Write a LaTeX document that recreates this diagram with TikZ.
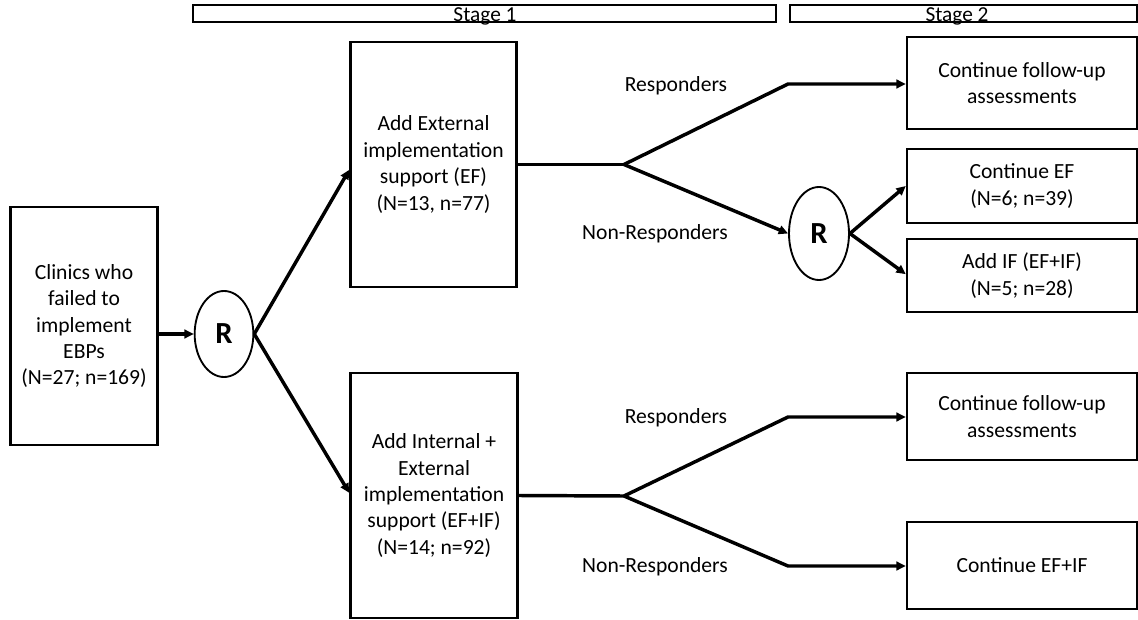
\documentclass[tikz,border=0pt]{standalone}
\usepackage{fontspec}
\setmainfont{Carlito}
\usetikzlibrary{shapes.geometric,arrows.meta}
\begin{document}
\begin{tikzpicture}[x=0.75pt,y=-0.75pt,
  txt/.style={font=\fontsize{16.2}{19.8}\selectfont},
  boxnode/.style={draw=black,line width=1.9pt,rectangle,inner sep=0pt,align=center,txt},
  rnode/.style={draw=black,line width=1.4pt,ellipse,inner sep=0pt,font=\fontsize{23}{24}\selectfont\bfseries},
  stagebar/.style={draw=black,line width=0.9pt,rectangle,inner sep=0pt,minimum height=12.75pt},
  stagetxt/.style={inner sep=0pt,anchor=base,font=\fontsize{16}{16}\selectfont},
  conn/.style={line width=2.6pt,line join=miter},
  arr/.style={conn,-{Triangle[length=7pt,width=6.5pt]}},
  lbl/.style={txt,inner sep=0pt}
]
\useasboundingbox (0,0) rectangle (1138,620);

% stage bars
\node[stagebar,minimum width=437.25pt] (st1) at (484.5,13.5) {};
\node[stagebar,minimum width=260.25pt] (st2) at (963.5,13.5) {};
\node[stagetxt] (st1t) at (485,21.5) {Stage 1};
\node[stagetxt] (st2t) at (957,21.5) {Stage 2};

% nodes
\node[boxnode,minimum width=110.25pt,minimum height=178.5pt] (clin) at (84,326)
  {Clinics who\\failed to\\implement\\EBPs\\(N=27; n=169)};
\node[rnode,minimum width=44pt,minimum height=64.5pt] (r1) at (224,334) {R};
\node[boxnode,minimum width=124.5pt,minimum height=183.75pt] (ef) at (433.5,164.5)
  {Add External\\implementation\\support (EF)\\(N=13, n=77)};
\node[boxnode,minimum width=125.25pt,minimum height=183.75pt] (efif) at (434,495.5)
  {Add Internal +\\External\\implementation\\support (EF+IF)\\(N=14; n=92)};
\node[boxnode,minimum width=172.5pt,minimum height=69pt] (fu1) at (1022,83)
  {Continue follow-up\\assessments};
\node[rnode,minimum width=45pt,minimum height=69.75pt] (r2) at (819,233.5) {R};
\node[boxnode,minimum width=172.5pt,minimum height=55.5pt] (cef) at (1022,186)
  {Continue EF\\(N=6; n=39)};
\node[boxnode,minimum width=172.5pt,minimum height=54.75pt] (aif) at (1022,275.5)
  {Add IF (EF+IF)\\(N=5; n=28)};
\node[boxnode,minimum width=172.5pt,minimum height=65.25pt] (fu2) at (1022,416.5)
  {Continue follow-up\\assessments};
\node[boxnode,minimum width=172.5pt,minimum height=65.25pt] (cefif) at (1022,565.5)
  {Continue EF+IF};

% labels
\node[lbl] (resp1) at (676,86) {Responders};
\node[lbl] (nonr1) at (655,234) {Non-Responders};
\node[lbl] (resp2) at (676,418) {Responders};
\node[lbl] (nonr2) at (655,567) {Non-Responders};

% branch coordinates
\coordinate (b1) at (624,164.5);
\coordinate (t1) at (788,84);
\coordinate (b2) at (624,496);
\coordinate (t2) at (788,417);
\coordinate (t3) at (788,566);

% connectors
\draw[arr] (clin.east |- r1.west) -- (r1.west);
\draw[arr] (r1.east) -- ([yshift=-4pt]ef.west);
\draw[arr] (r1.east) -- ([yshift=2pt]efif.west);
\draw[conn] (ef.east) -- (b1);
\draw[arr] (b1) -- (t1) -- (t1 -| fu1.west);
\draw[arr] (b1) -- (r2.west);
\draw[arr] (r2.east) -- (cef.west);
\draw[arr] (r2.east) -- ([yshift=1pt]aif.west);
\draw[conn] (efif.east) -- (b2);
\draw[arr] (b2) -- (t2) -- (t2 -| fu2.west);
\draw[arr] (b2) -- (t3) -- (t3 -| cefif.west);
\end{tikzpicture}
\end{document}
